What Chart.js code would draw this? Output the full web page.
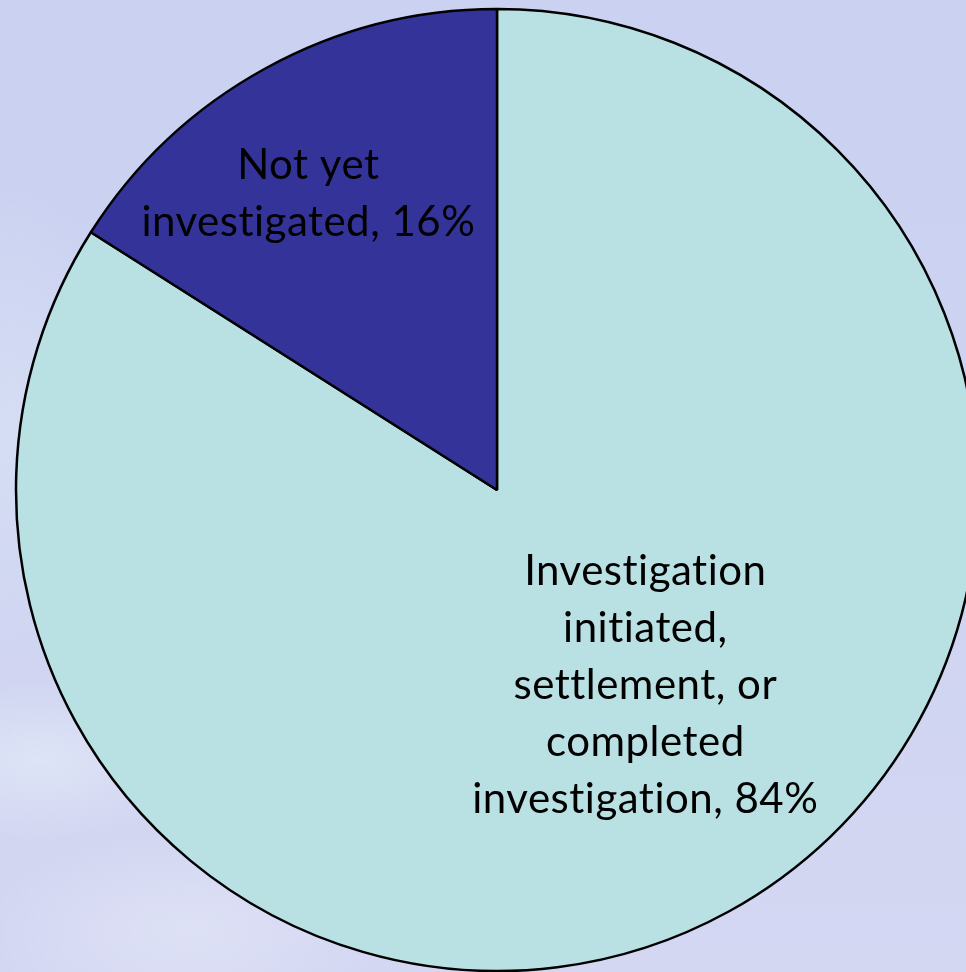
<!DOCTYPE html>
<html>
<head>
<meta charset="utf-8">
<script src="https://cdn.jsdelivr.net/npm/chart.js@4"></script>
<style>
  html, body {
    margin: 0;
    padding: 0;
    width: 966px;
    height: 972px;
    overflow: hidden;
  }
  body {
    background:
      radial-gradient(ellipse 160px 80px at 40px 760px, rgba(232,240,250,0.55), rgba(232,240,250,0)),
      radial-gradient(ellipse 120px 240px at 10px 430px, rgba(222,232,246,0.5), rgba(222,232,246,0)),
      radial-gradient(ellipse 200px 100px at 190px 930px, rgba(232,236,248,0.5), rgba(232,236,248,0)),
      linear-gradient(180deg, #cad1f1 0%, #cdd3f1 45%, #d4d7f2 100%);
  }
  #wrap { position: absolute; left: 0; top: 0; }
</style>
</head>
<body>
<div id="wrap"><canvas id="chart" width="994" height="980"></canvas></div>
<script>
// --- datos ---
const categories = ["Investigation initiated, settlement, or completed investigation", "Not yet investigated"];
const values = [84, 16];
const labelLines = [
  ["Investigation", "initiated,", "settlement, or", "completed", "investigation, 84%"],
  ["Not yet", "investigated, 16%"]
];
const colors = ["#b9e0e3", "#333399"];

// label placement: angle (deg, from 3 o'clock) and distance as fraction of radius
const labelAngle = [52.8, -122.5];
const labelDist = [0.51, 0.73];

const pieLabels = {
  id: "pieLabels",
  afterDatasetsDraw(chart) {
    const ctx = chart.ctx;
    const meta = chart.getDatasetMeta(0);
    ctx.save();
    ctx.font = "42px Lato, 'Open Sans', sans-serif";
    ctx.textRendering = "optimizeSpeed"; // no "ti" ligature
    ctx.letterSpacing = "0.5px";
    ctx.fillStyle = "#000";
    ctx.textAlign = "center";
    ctx.textBaseline = "middle";
    const lh = 57;
    meta.data.forEach((arc, i) => {
      const a = labelAngle[i] * Math.PI / 180;
      const r = arc.outerRadius * labelDist[i];
      const cx = arc.x + Math.cos(a) * r;
      const cy = arc.y + Math.sin(a) * r;
      const lines = labelLines[i];
      const top = cy - (lines.length - 1) * lh / 2;
      lines.forEach((t, j) => ctx.fillText(t, cx, top + j * lh));
    });
    ctx.restore();
  }
};

new Chart(document.getElementById("chart"), {
  type: "pie",
  data: {
    labels: categories,
    datasets: [{
      data: values,
      backgroundColor: colors,
      borderColor: "#000",
      borderWidth: 2.5,
      radius: 481
    }]
  },
  options: {
    responsive: false,
    animation: false,
    events: [],
    plugins: {
      legend: { display: false },
      tooltip: { enabled: false }
    }
  },
  plugins: [pieLabels]
});
</script>
</body>
</html>
